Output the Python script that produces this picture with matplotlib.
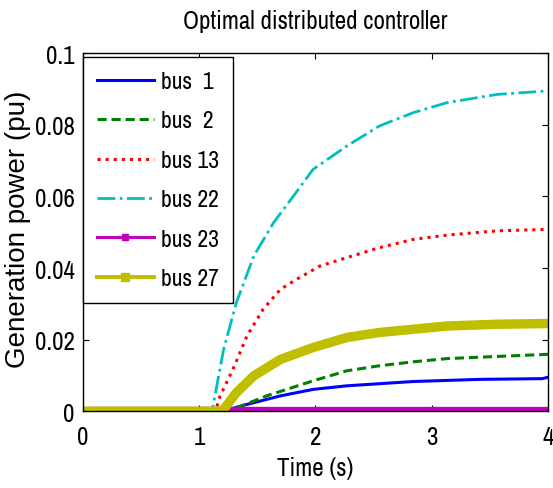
import matplotlib
matplotlib.use("Agg")
import matplotlib.pyplot as plt
from matplotlib.lines import Line2D

# values
t_bus1 = [0, 1.20, 1.41, 1.70, 1.98, 2.27, 2.84, 3.41, 3.95, 4.0]
v_bus1 = [0, 0, 0.0019, 0.0043, 0.0061, 0.0071, 0.0083, 0.0089, 0.0091, 0.0095]

t_bus2 = [0, 1.25, 1.58, 1.98, 2.27, 2.55, 2.84, 3.13, 3.56, 4.0]
v_bus2 = [0, 0, 0.0043, 0.0085, 0.0113, 0.0127, 0.0138, 0.0147, 0.0153, 0.0159]

t_bus13 = [0, 1.14, 1.18, 1.29, 1.41, 1.55, 1.70, 1.84, 2.04, 2.27, 2.55, 2.84, 3.13, 3.56, 4.0]
v_bus13 = [0, 0, 0.0043, 0.0117, 0.0210, 0.0285, 0.0341, 0.0369, 0.0406, 0.0429,
           0.0457, 0.0480, 0.0492, 0.0504, 0.0508]

t_bus22 = [0, 1.11, 1.21, 1.32, 1.47, 1.64, 1.81, 1.98, 2.27, 2.55, 2.84, 3.13, 3.56, 4.0]
v_bus22 = [0, 0, 0.0173, 0.0304, 0.0434, 0.0527, 0.0601, 0.0676, 0.0741, 0.0797,
           0.0834, 0.0862, 0.0885, 0.0895]

t_bus23 = [0, 4.0]
v_bus23 = [0, 0]

t_bus27 = [0, 1.18, 1.21, 1.32, 1.47, 1.70, 1.98, 2.27, 2.55, 2.84, 3.13, 3.56, 4.0]
v_bus27 = [0, 0, 0.0005, 0.0052, 0.0099, 0.0145, 0.0178, 0.0206, 0.0220, 0.0229,
           0.0238, 0.0243, 0.0245]

labels = ["bus  1", "bus  2", "bus 13", "bus 22", "bus 23", "bus 27"]
x_ticks = [0, 1, 2, 3, 4]
y_ticks = [0, 0.02, 0.04, 0.06, 0.08, 0.1]
y_tick_labels = ["0", "0.02", "0.04", "0.06", "0.08", "0.1"]

# MATLAB default-ish colours
BLUE = (0, 0, 1)
GREEN = (0, 0.5, 0)
RED = (1, 0, 0)
CYAN = (0, 0.75, 0.75)
MAGENTA = (0.75, 0, 0.75)
OLIVE = (0.75, 0.75, 0)

# narrow grotesque, close to the squeezed Helvetica of the original
FONT = ["Archivo Narrow", "Liberation Sans", "DejaVu Sans"]
plt.rcParams["font.family"] = FONT

fig = plt.figure(figsize=(5.53, 4.89), dpi=100)
fig.patch.set_facecolor("white")
ax = fig.add_axes([0.150, 0.157, 0.841, 0.732])

ax.plot(t_bus1, v_bus1, color=BLUE, lw=2.2, ls="-")
ax.plot(t_bus2, v_bus2, color=GREEN, lw=2.2, ls="--", dashes=(3.0, 1.6))
ax.plot(t_bus13, v_bus13, color=RED, lw=2.2, ls=":")
ax.plot(t_bus22, v_bus22, color=CYAN, lw=2.0, ls="-.")
ax.plot(t_bus23, v_bus23, color=MAGENTA, lw=6.0, ls="-", solid_capstyle="butt")
ax.plot(t_bus27, v_bus27, color=OLIVE, lw=6.8, ls="-", solid_capstyle="butt")

ax.set_xlim(0, 4)
ax.set_ylim(0, 0.1)
ax.set_xticks(x_ticks)
ax.set_xticklabels([str(x) for x in x_ticks])
ax.set_yticks(y_ticks)
ax.set_yticklabels(y_tick_labels)
ax.tick_params(direction="in", top=True, right=True, length=4, width=0.8,
               labelsize=18)
ax.tick_params(axis="x", pad=10)
ax.tick_params(axis="y", pad=6)
for sp in ax.spines.values():
    sp.set_linewidth(1.0)
    sp.set_color("black")

ax.set_title("Optimal distributed controller", fontsize=18, pad=18)
ax.set_xlabel("Time (s)", fontsize=18)
ax.xaxis.label.set_va("center")
ax.xaxis.set_label_coords(0.5, -0.156)
ax.set_ylabel("Generation power (pu)", fontsize=20,
              family=["Liberation Sans", "DejaVu Sans"])
ax.yaxis.label.set_va("center")
ax.yaxis.set_label_coords(-0.14, 0.51)

handles = [
    Line2D([0], [0], color=BLUE, lw=2.2, ls="-"),
    Line2D([0], [0], color=GREEN, lw=2.2, ls="--", dashes=(3.0, 1.6)),
    Line2D([0], [0], color=RED, lw=2.2, ls=":"),
    Line2D([0], [0], color=CYAN, lw=2.0, ls="-."),
    Line2D([0], [0], color=MAGENTA, lw=2.2, ls="-", marker="s", markersize=5),
    Line2D([0], [0], color=OLIVE, lw=2.8, ls="-", marker="s", markersize=6),
]
leg = ax.legend(handles, labels, loc="upper left", bbox_to_anchor=(0.0, 0.99),
                borderaxespad=0, fancybox=False, framealpha=1, edgecolor="black",
                prop={"size": 17}, handlelength=2.4,
                handletextpad=0.3, labelspacing=0.78, borderpad=0.6)
leg.get_frame().set_linewidth(1.0)

fig.savefig("out.png", dpi=100, facecolor="white")
